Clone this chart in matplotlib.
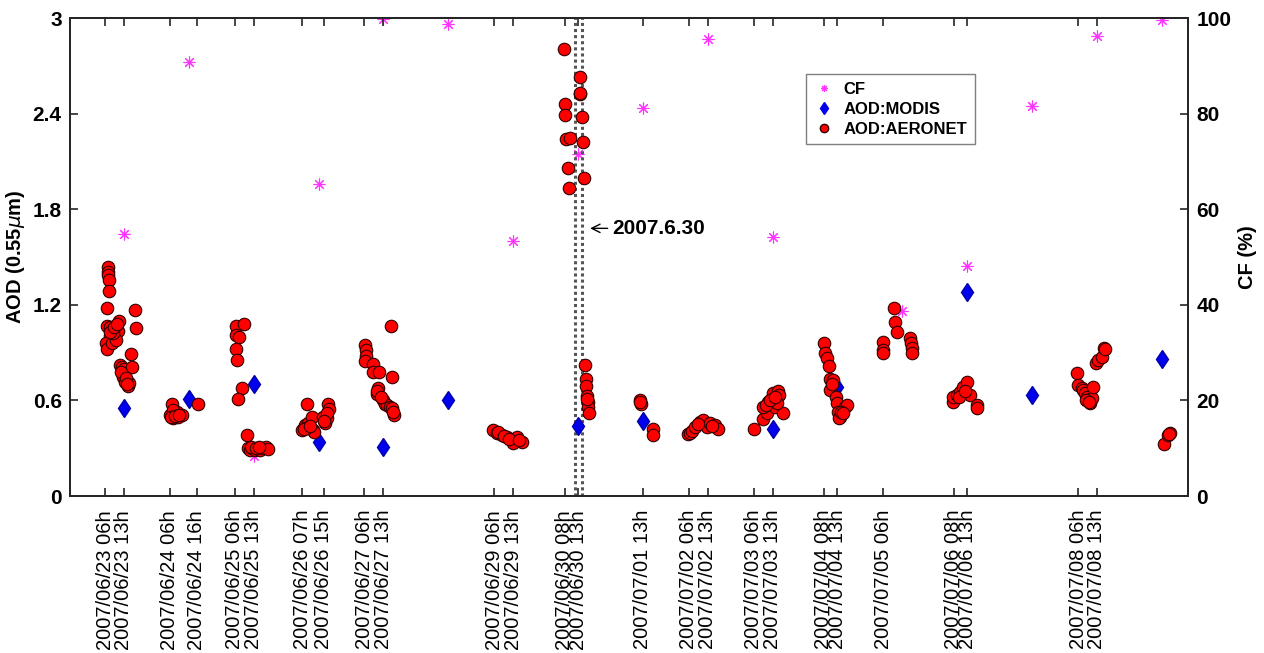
import numpy as np
import matplotlib
matplotlib.use('Agg')
from matplotlib import pyplot as plt
from matplotlib.lines import Line2D

plt.rcParams['font.family'] = ['Liberation Sans', 'DejaVu Sans']

# time axis: hours since 2007/06/23 00h
tick_hours = [6, 13, 30, 40, 54, 61, 79, 87, 102, 109, 150, 157, 176, 181, 205,
              222, 229, 246, 253, 272, 277, 294, 320, 325, 366, 373]
tick_labels = ['2007/06/23 06h', '2007/06/23 13h', '2007/06/24 06h', '2007/06/24 16h',
               '2007/06/25 06h', '2007/06/25 13h', '2007/06/26 07h', '2007/06/26 15h',
               '2007/06/27 06h', '2007/06/27 13h', '2007/06/29 06h', '2007/06/29 13h',
               '2007/06/30 08h', '2007/06/30 13h', '2007/07/01 13h', '2007/07/02 06h',
               '2007/07/02 13h', '2007/07/03 06h', '2007/07/03 13h', '2007/07/04 08h',
               '2007/07/04 13h', '2007/07/05 06h', '2007/07/06 08h', '2007/07/06 13h',
               '2007/07/08 06h', '2007/07/08 13h']

# cloud fraction (%)
cf_hours = [13, 37, 61, 85, 109, 133, 157, 181, 205, 229, 253, 301, 325, 349, 373, 397]
cf_vals = [54.8, 90.8, 8.4, 65.3, 99.8, 98.7, 53.3, 71.5, 81.2, 95.6, 54.2, 38.7,
           48.1, 81.6, 96.2, 99.6]

# MODIS AOD
modis_hours = [13, 37, 61, 85, 109, 133, 181, 205, 253, 277, 325, 349, 397]
modis_aod = [0.552, 0.609, 0.703, 0.339, 0.308, 0.603, 0.44, 0.471, 0.42, 0.684,
             1.28, 0.634, 0.86]

# AERONET AOD
aer_hours = [
    # 06/23
    7.0, 7.0, 7.2, 7.4, 7.5, 6.9, 6.6, 7.85, 11.3, 10.9, 7.85, 6.3, 6.6, 8.5, 10.1, 9.1,
    11.55, 12.2, 13.1, 12.8, 13.4, 14.4, 15.0, 15.5, 15.9, 17.0, 17.4, 8.0, 9.5, 10.5,
    12.0, 13.6, 14.0,
    # 06/24
    30.7, 30.0, 31.3, 31.9, 32.5, 33.1, 34.4, 31.0, 40.5, 30.5, 32.0, 33.5,
    # 06/25
    54.5, 57.5, 54.5, 55.7, 54.5, 54.7, 56.6, 55.1, 58.4, 58.8, 59.5, 60.5, 61.5, 62.5,
    63.5, 64.5, 65.5, 66.2, 60.0, 62.0, 63.0,
    # 06/26
    80.8, 78.8, 80.0, 81.2, 82.5, 83.1, 83.4, 80.5, 79.5, 82.0, 86.8, 87.4, 88.0, 88.4,
    88.9, 88.0, 87.0,
    # 06/27
    111.8, 102.2, 102.5, 102.6, 102.2, 105.3, 105.3, 107.5, 112.1, 107.1, 106.5, 108.9,
    109.6, 110.3, 111.3, 112.0, 112.9, 112.7, 106.8, 108.0,
    # 06/29
    149.7, 150.9, 152.8, 154.6, 156.5, 158.3, 160.2, 157.1, 151.5, 153.5, 155.5, 159.0,
    # 06/30
    175.8, 176.2, 176.3, 176.6, 178.0, 177.4, 177.7, 181.7, 181.7, 181.6, 182.3, 182.7,
    183.1, 183.6, 183.8, 183.9, 184.3, 184.6, 184.8, 184.9, 184.4,
    # 07/01
    203.9, 204.3, 208.6, 208.8, 204.0,
    # 07/02
    221.8, 222.5, 223.3, 224.3, 226.1, 227.4, 228.8, 229.8, 231.7, 232.7, 225.5, 230.5,
    # 07/03
    246.2, 249.5, 250.8, 249.5, 251.4, 252.7, 253.2, 255.1, 255.5, 253.9, 256.7, 254.5,
    250.5, 252.0, 254.0,
    # 07/04
    272.0, 272.4, 273.2, 273.9, 274.2, 275.4, 274.2, 276.4, 276.7, 277.3, 277.9, 277.6,
    279.8, 280.4, 278.4, 279.0, 275.0,
    # 07/05
    294.0, 293.7, 294.0, 297.9, 298.4, 298.9, 303.8, 304.2, 304.4, 304.4,
    # 07/06
    319.8, 319.8, 321.1, 322.3, 323.5, 324.8, 326.0, 328.5, 328.5, 322.0, 324.0,
    # 07/08
    365.5, 366.1, 367.3, 367.9, 368.6, 369.2, 369.8, 370.4, 371.0, 371.6, 372.6, 373.5,
    374.7, 375.7, 375.8, 369.0, 370.0,
    # 07/09
    397.8, 399.4, 400.0, 399.7]
aer_aod = [
    1.435, 1.408, 1.387, 1.356, 1.287, 1.182, 1.067, 1.059, 1.098, 1.035, 1.004, 0.962,
    0.921, 0.958, 0.979, 1.021, 0.822, 0.808, 0.795, 0.749, 0.717, 0.69, 0.707, 0.891,
    0.812, 1.167, 1.052, 1.03, 1.06, 1.08, 0.78, 0.74, 0.70,
    0.577, 0.508, 0.488, 0.519, 0.529, 0.498, 0.508, 0.54, 0.576, 0.495, 0.50, 0.51,
    1.067, 1.08, 1.011, 0.996, 0.921, 0.854, 0.676, 0.609, 0.381, 0.30, 0.29, 0.30, 0.29,
    0.295, 0.29, 0.30, 0.31, 0.295, 0.31, 0.30, 0.305,
    0.577, 0.414, 0.446, 0.456, 0.498, 0.414, 0.404, 0.43, 0.42, 0.44, 0.498, 0.456,
    0.488, 0.577, 0.544, 0.52, 0.47,
    1.069, 0.948, 0.916, 0.879, 0.847, 0.828, 0.78, 0.78, 0.749, 0.676, 0.638, 0.603,
    0.58, 0.57, 0.56, 0.55, 0.508, 0.529, 0.66, 0.62,
    0.414, 0.393, 0.383, 0.372, 0.351, 0.372, 0.341, 0.33, 0.40, 0.375, 0.36, 0.35,
    2.803, 2.46, 2.39, 2.239, 2.245, 2.057, 1.935, 2.632, 2.521, 2.53, 2.381, 2.22,
    1.998, 0.822, 0.734, 0.69, 0.63, 0.592, 0.561, 0.523, 0.61,
    0.603, 0.577, 0.418, 0.383, 0.59,
    0.389, 0.395, 0.41, 0.435, 0.467, 0.477, 0.435, 0.456, 0.446, 0.418, 0.45, 0.44,
    0.42, 0.481, 0.523, 0.561, 0.592, 0.613, 0.645, 0.659, 0.634, 0.561, 0.519, 0.582,
    0.57, 0.60, 0.62,
    0.958, 0.9, 0.864, 0.816, 0.732, 0.728, 0.665, 0.623, 0.586, 0.529, 0.498, 0.49,
    0.561, 0.571, 0.53, 0.52, 0.70,
    0.969, 0.916, 0.896, 1.178, 1.094, 1.031, 0.99, 0.958, 0.927, 0.9,
    0.592, 0.623, 0.634, 0.655, 0.686, 0.717, 0.634, 0.571, 0.554, 0.62, 0.66,
    0.77, 0.697, 0.676, 0.665, 0.645, 0.623, 0.603, 0.582, 0.613, 0.682, 0.837, 0.854,
    0.874, 0.927, 0.92, 0.60, 0.59,
    0.324, 0.383, 0.397, 0.39]

event_hours = [179.7, 182.5]

fig = plt.figure(figsize=(12.64, 6.53), dpi=100)
ax = fig.add_axes([0.0554, 0.2404, 0.8845, 0.732])
ax2 = ax.twinx()
ax.set_zorder(ax2.get_zorder() + 1)
ax.patch.set_visible(False)

asterisk = (8, 2, 0)
ax2.plot(cf_hours, cf_vals, linestyle='none', marker=asterisk, color='#ff33ff',
         markersize=8.5, markeredgewidth=0.8)
ax.plot(modis_hours, modis_aod, linestyle='none', marker='d', color='#0000ee',
        markeredgecolor='#0000aa', markersize=9.5)
ax.plot(aer_hours, aer_aod, linestyle='none', marker='o', markerfacecolor='#ff0000',
        markeredgecolor='#300000', markeredgewidth=0.8, markersize=9)

for h in event_hours:
    ax.axvline(h, color='#555555', linestyle=(0, (1, 1)), linewidth=2.2, zorder=1)

ax.annotate('2007.6.30', xy=(185.5, 1.68), xytext=(193.5, 1.68),
            fontsize=15, fontweight='bold', va='center', ha='left',
            arrowprops=dict(arrowstyle='->', color='black', lw=1.0, shrinkA=1, shrinkB=0))

ax.set_xlim(-6.95, 406.7)
ax.set_ylim(0, 3)
ax2.set_ylim(0, 100)
ax.set_yticks([0, 0.6, 1.2, 1.8, 2.4, 3])
ax.set_yticklabels(['0', '0.6', '1.2', '1.8', '2.4', '3'])
ax2.set_yticks([0, 20, 40, 60, 80, 100])
ax.set_xticks(tick_hours)
ax.set_xticklabels(tick_labels, rotation=90, fontsize=14.5)

ax.tick_params(axis='x', direction='in', length=6, width=1.2, top=True, pad=10,
               color='#262626')
ax.tick_params(axis='y', direction='in', length=6, width=1.2, labelsize=15,
               color='#262626', pad=6)
ax2.tick_params(axis='y', direction='in', length=6, width=1.2, labelsize=15,
                color='#262626', pad=6)
for t in ax.get_yticklabels() + ax2.get_yticklabels():
    t.set_fontweight('bold')

ax.set_ylabel(r'AOD (0.55$\mu$m)', fontsize=14.5, fontweight='bold')
ax2.set_ylabel('CF (%)', fontsize=14.5, fontweight='bold')
ax.yaxis.set_label_coords(-0.0385, 0.5)
ax2.yaxis.set_label_coords(1.0447, 0.5)

for a in (ax, ax2):
    for s in a.spines.values():
        s.set_linewidth(1.4)
        s.set_color('#262626')

handles = [
    Line2D([], [], linestyle='none', marker=asterisk, color='#ff33ff', markersize=5,
           markeredgewidth=0.8),
    Line2D([], [], linestyle='none', marker='d', color='#0000ee', markersize=6),
    Line2D([], [], linestyle='none', marker='o', markerfacecolor='#ff0000',
           markeredgecolor='#300000', markersize=6)]
leg = ax.legend(handles, ['CF', 'AOD:MODIS', 'AOD:AERONET'], loc='upper left',
                bbox_to_anchor=(0.651, 0.9), fancybox=False, framealpha=1,
                edgecolor='#7f7f7f', prop={'weight': 'bold', 'size': 12},
                handlelength=1.2, borderpad=0.45, labelspacing=0.3, handletextpad=0.6)
leg.get_frame().set_linewidth(1.0)

fig.savefig('out.png', dpi=100)
